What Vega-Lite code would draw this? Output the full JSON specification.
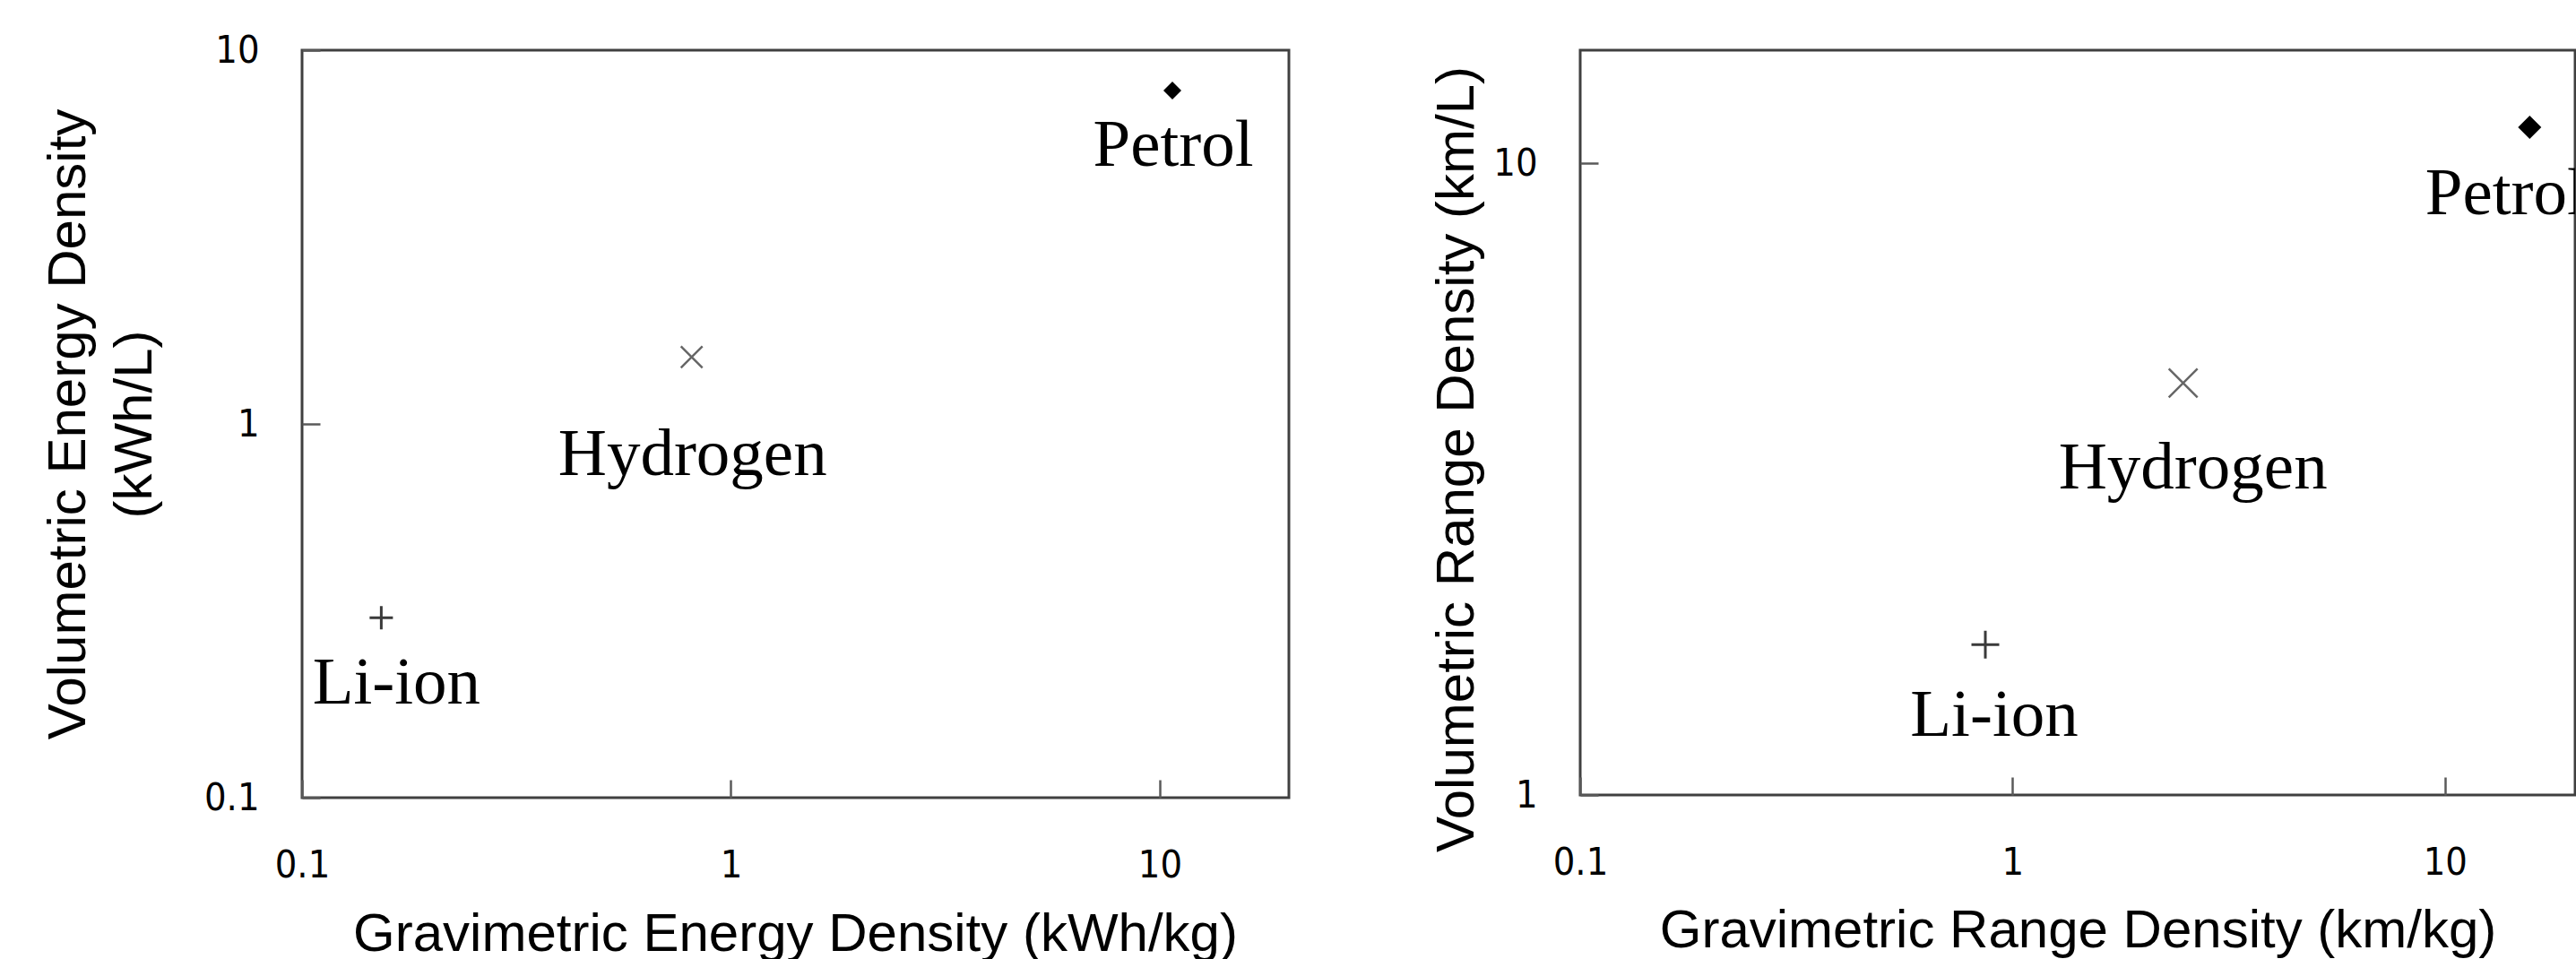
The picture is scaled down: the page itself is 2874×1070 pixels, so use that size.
{
  "$schema": "https://vega.github.io/schema/vega-lite/v6.json",
  "background": "white",
  "padding": {"left": 44, "top": 33, "right": 0, "bottom": 0},
  "bounds": "flush",
  "spacing": 325,
  "datasets": {
    "energy": [
      {"fuel": "Petrol", "grav": 10.7, "vol": 7.8},
      {"fuel": "Hydrogen", "grav": 0.81, "vol": 1.51},
      {"fuel": "Li-ion", "grav": 0.153, "vol": 0.303}
    ],
    "range": [
      {"fuel": "Petrol", "grav": 15.7, "vol": 11.4},
      {"fuel": "Hydrogen", "grav": 2.48, "vol": 4.49},
      {"fuel": "Li-ion", "grav": 0.865, "vol": 1.73}
    ]
  },
  "config": {
    "view": {"stroke": "#404040", "strokeWidth": 3},
    "axis": {
      "grid": false,
      "domain": false,
      "ticks": true,
      "tickSize": -20,
      "tickColor": "#5a5a5a",
      "tickWidth": 2.5,
      "labelFont": "DejaVu Sans Condensed",
      "labelFontSize": 43,
      "labelColor": "#000000",
      "labelFlush": false,
      "labelOverlap": false,
      "labelBound": false,
      "titleFont": "Liberation Sans",
      "titleFontSize": 60,
      "titleFontWeight": "normal",
      "titleColor": "#000000"
    },
    "axisX": {"labelPadding": 74},
    "axisY": {"labelPadding": 68}
  },
  "hconcat": [
    {
      "width": 1101,
      "height": 834,
      "data": {"name": "energy"},
      "encoding": {
        "x": {
          "field": "grav", "type": "quantitative",
          "scale": {"type": "log", "domain": [0.1, 20], "nice": false},
          "axis": {"values": [0.1, 1, 10], "format": "~g", "title": "Gravimetric Energy Density (kWh/kg)",
                   "titleX": 550, "titleY": 170, "titleBaseline": "alphabetic", "titleAlign": "center"}
        },
        "y": {
          "field": "vol", "type": "quantitative",
          "scale": {"type": "log", "domain": [0.1, 10], "nice": false},
          "axis": {"values": [0.1, 1, 10], "format": "~g", "title": ["Volumetric Energy Density", "(kWh/L)"],
                   "titleX": -243, "titleY": 417, "titleAngle": -90, "titleBaseline": "alphabetic",
                   "titleAlign": "center", "titleLineHeight": 74}
        }
      },
      "layer": [
        {"transform": [{"filter": "datum.fuel == 'Petrol'"}],
         "mark": {"type": "point", "shape": "diamond", "filled": true, "color": "#000000", "size": 400, "opacity": 1}},
        {"transform": [{"filter": "datum.fuel == 'Hydrogen'"}],
         "mark": {"type": "point", "shape": "M-1,-1L1,1M-1,1L1,-1", "filled": false, "stroke": "#666666", "strokeWidth": 2.5, "size": 576, "opacity": 1}},
        {"transform": [{"filter": "datum.fuel == 'Li-ion'"}],
         "mark": {"type": "point", "shape": "M-1,0H1M0,-1V1", "filled": false, "stroke": "#3a3a3a", "strokeWidth": 3, "size": 676, "opacity": 1}},
        {"transform": [{"filter": "datum.fuel == 'Petrol'"}],
         "mark": {"type": "text", "font": "Liberation Serif", "fontSize": 75, "color": "#000000", "align": "center", "baseline": "alphabetic", "dx": 1, "dy": 84},
         "encoding": {"text": {"field": "fuel"}}},
        {"transform": [{"filter": "datum.fuel == 'Hydrogen'"}],
         "mark": {"type": "text", "font": "Liberation Serif", "fontSize": 75, "color": "#000000", "align": "center", "baseline": "alphabetic", "dx": 1, "dy": 132},
         "encoding": {"text": {"field": "fuel"}}},
        {"transform": [{"filter": "datum.fuel == 'Li-ion'"}],
         "mark": {"type": "text", "font": "Liberation Serif", "fontSize": 75, "color": "#000000", "align": "center", "baseline": "alphabetic", "dx": 17, "dy": 96},
         "encoding": {"text": {"field": "fuel"}}}
      ]
    },
    {
      "width": 1110,
      "height": 831,
      "data": {"name": "range"},
      "encoding": {
        "x": {
          "field": "grav", "type": "quantitative",
          "scale": {"type": "log", "domain": [0.1, 20], "nice": false},
          "axis": {"values": [0.1, 1, 10], "format": "~g", "title": "Gravimetric Range Density (km/kg)",
                   "titleX": 555, "titleY": 169, "titleBaseline": "alphabetic", "titleAlign": "center"}
        },
        "y": {
          "field": "vol", "type": "quantitative",
          "scale": {"type": "log", "domain": [1, 15.1], "nice": false},
          "axis": {"values": [1, 10], "format": "~g", "title": "Volumetric Range Density (km/L)",
                   "titleX": -120, "titleY": 456, "titleAngle": -90, "titleBaseline": "alphabetic",
                   "titleAlign": "center"}
        }
      },
      "layer": [
        {"transform": [{"filter": "datum.fuel == 'Petrol'"}],
         "mark": {"type": "point", "shape": "diamond", "filled": true, "color": "#000000", "size": 676, "opacity": 1}},
        {"transform": [{"filter": "datum.fuel == 'Hydrogen'"}],
         "mark": {"type": "point", "shape": "M-1,-1L1,1M-1,1L1,-1", "filled": false, "stroke": "#666666", "strokeWidth": 2.5, "size": 1024, "opacity": 1}},
        {"transform": [{"filter": "datum.fuel == 'Li-ion'"}],
         "mark": {"type": "point", "shape": "M-1,0H1M0,-1V1", "filled": false, "stroke": "#3a3a3a", "strokeWidth": 3, "size": 961, "opacity": 1}},
        {"transform": [{"filter": "datum.fuel == 'Petrol'"}],
         "mark": {"type": "text", "font": "Liberation Serif", "fontSize": 75, "color": "#000000", "align": "center", "baseline": "alphabetic", "dx": -27, "dy": 97, "clip": true},
         "encoding": {"text": {"field": "fuel"}}},
        {"transform": [{"filter": "datum.fuel == 'Hydrogen'"}],
         "mark": {"type": "text", "font": "Liberation Serif", "fontSize": 75, "color": "#000000", "align": "center", "baseline": "alphabetic", "dx": 11, "dy": 118},
         "encoding": {"text": {"field": "fuel"}}},
        {"transform": [{"filter": "datum.fuel == 'Li-ion'"}],
         "mark": {"type": "text", "font": "Liberation Serif", "fontSize": 75, "color": "#000000", "align": "center", "baseline": "alphabetic", "dx": 10, "dy": 102},
         "encoding": {"text": {"field": "fuel"}}}
      ]
    }
  ]
}
